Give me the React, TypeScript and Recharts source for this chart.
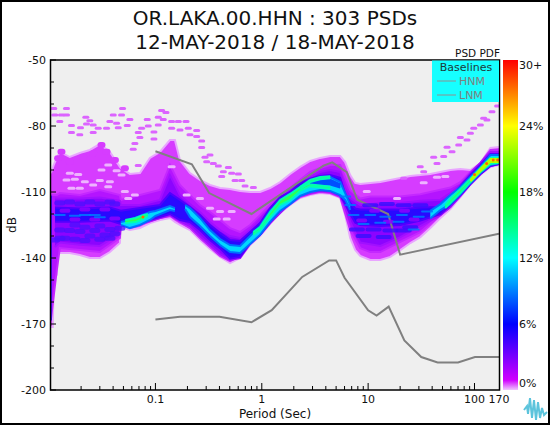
import React from "react";
import { Area, Bar, BarChart, CartesianGrid, ComposedChart, Line, Scatter, XAxis, YAxis } from "recharts";

// Each band row is [period, low dB, high dB]
const outerBand = [
    [0.01038, -171.4, -101.4], [0.01083, -171.4, -99.1], [0.01107, -149.1, -97.7], [0.01182, -147.7, -94.5],
    [0.01208, -137.7, -93.6], [0.01262, -137.7, -91.8], [0.01566, -137.7, -94.1], [0.01946, -138.6, -92.3],
    [0.02416, -140, -90.9], [0.03, -140, -88.2], [0.0373, -137.3, -91.8], [0.0463, -133.2, -98.6],
    [0.0473, -125.9, -99.1], [0.0575, -127.3, -101.8], [0.0715, -126.4, -101.4], [0.0888, -124.1, -94.5],
    [0.1102, -122.7, -91.8], [0.1369, -121.8, -86.4], [0.1525, -123.6, -86.4], [0.17, -125, -95.5],
    [0.2113, -127.3, -101.4], [0.2624, -131.8, -104.5], [0.326, -135.9, -106.8], [0.405, -139.5, -108.2],
    [0.503, -142.3, -108.6], [0.625, -140, -109.5], [0.776, -134.1, -110], [0.964, -130, -110],
    [1.197, -124.5, -108.2], [1.487, -119.5, -105.5], [1.847, -115.9, -101.8], [2.295, -112.7, -98.6],
    [2.85, -111.4, -95.9], [3.54, -110.5, -94.5], [4.4, -110.9, -93.6], [5.46, -112.7, -93.6],
    [6.08, -120.5, -96.4], [6.78, -130.9, -102.3], [7.56, -136.4, -105.9], [8.43, -139.1, -106.4],
    [10.47, -140.9, -105.9], [13, -140.9, -105.5], [16.15, -139.5, -104.5], [20.06, -136.4, -103.6],
    [24.9, -133.2, -102.7], [30.95, -130.5, -102.3], [38.4, -126.4, -101.8], [47.8, -121.8, -100.9],
    [59.3, -117.7, -100], [73.7, -112.3, -99.5], [91.5, -106.8, -100], [113.7, -102.3, -96.8],
    [141, -98.6, -90], [170, -97.7, -89.5],
];

const purpleBand = [
    [0.01038, -168.2, -111.4], [0.01182, -145.5, -111.4], [0.01262, -135.5, -110.5], [0.01946, -136.4, -111.4],
    [0.03, -137.3, -109.1], [0.0463, -130.9, -111.4], [0.0473, -125, -113.6], [0.0715, -125, -111.4],
    [0.1102, -121.8, -109.1], [0.1369, -120.9, -97.7], [0.17, -123.6, -106.8], [0.2113, -126.4, -111.4],
    [0.2624, -130.9, -115.9], [0.326, -135, -119.1], [0.405, -139.1, -122.7], [0.503, -141.4, -126.4],
    [0.625, -139.1, -128.2], [0.776, -133.6, -125], [0.964, -129.5, -120.5], [1.197, -124.1, -115.9],
    [1.487, -119.1, -111.4], [1.847, -115.5, -108.2], [2.295, -112.3, -104.5], [2.85, -110.9, -100.9],
    [3.54, -110, -99.1], [4.4, -110.5, -97.7], [5.46, -112.3, -97.7], [6.78, -127.3, -109.1],
    [8.43, -135.5, -113], [10.47, -137.3, -112], [13, -137.3, -112], [20.06, -132.7, -112],
    [30.95, -128.2, -111], [47.8, -120.5, -109], [59.3, -116.8, -108], [73.7, -111.8, -105.5],
    [91.5, -106.4, -100.9], [113.7, -101.8, -96.8], [141, -98.2, -90.9], [170, -97.3, -90.9],
];

const indigoBand = [
    [0.01135, -135, -113], [0.01262, -133, -113], [0.01946, -134, -113], [0.03, -134.5, -112.5],
    [0.0463, -129, -114], [0.0473, -124.5, -115.9], [0.0715, -124.5, -115.9], [0.1102, -121.8, -113.6],
    [0.1369, -120.5, -102.3], [0.17, -123.2, -111.4], [0.2113, -125.5, -115.5], [0.2624, -130, -119.1],
    [0.326, -134.1, -123.6], [0.405, -138.2, -127.3], [0.503, -140.9, -130], [0.625, -140, -130.9],
    [0.776, -133.6, -127.3], [0.964, -129.5, -122.7], [1.197, -124.1, -117.3], [1.847, -115, -109.1],
    [2.295, -111.8, -105.9], [2.85, -110.5, -103.2], [3.54, -109.5, -100.9], [4.4, -110, -100],
    [5.46, -111.8, -100.9], [6.08, -116.8, -108.2], [6.78, -123.6, -112.7], [8.43, -133, -116],
    [13, -134.5, -115], [20.06, -130.5, -115], [30.95, -125.5, -114], [47.8, -120.5, -113.5],
    [59.3, -116.8, -110.5], [73.7, -111.8, -106.8], [91.5, -106.4, -101.4], [113.7, -101.8, -96.8],
    [141, -98.2, -91.8], [170, -97.3, -91.8],
];

const blueBand = [
    [0.0114, -123.5, -117], [0.01946, -123.5, -117.5], [0.0373, -123, -117], [0.0473, -124.5, -118.5],
    [0.0715, -124.1, -117.3], [0.1102, -121.4, -115.9], [0.1369, -120, -110.5], [0.17, -122.7, -113.6],
    [0.2113, -123.6, -116.8], [0.2624, -127.3, -120.5], [0.326, -131.8, -125], [0.405, -135.5, -128.6],
    [0.503, -140.3, -131.8], [0.625, -139.5, -132.3], [0.776, -133.2, -128.2], [0.964, -129.5, -124.1],
    [1.197, -123.6, -117.3], [1.487, -118.2, -112.3], [1.847, -115, -110], [2.295, -110.5, -105.9],
    [2.85, -109.5, -104], [3.54, -109.1, -102.7], [4.4, -109.5, -102.3], [5.46, -111.4, -103.6],
    [6.08, -115.5, -110.9], [6.78, -120, -115], [7.56, -124, -117.5], [8.43, -125, -118],
    [13, -125.5, -118], [20.06, -125, -118], [30.95, -123, -117], [47.8, -120, -116.8], [59.3, -115.9, -112.3],
    [73.7, -111.4, -107.3], [91.5, -106.4, -102.3], [113.7, -101.8, -97.7], [141, -98.2, -92.7],
    [170, -97.3, -92.7],
];

const stripBand = [[0.0102, -168, -112], [0.0106, -168, -112]];

const cyanPatchLeft = [
    [0.0473, -125, -123.6], [0.0575, -126.4, -122.7], [0.0715, -125, -120.9], [0.0888, -122.7, -119.1],
    [0.1, -120.9, -118.6], [0.1369, -118.2, -116.4], [0.1525, -118.6, -117.3],
];

const cyanBranchLow = [
    [0.19, -117.7, -115.9], [0.2113, -121.4, -117.3], [0.2624, -125.5, -121.8], [0.326, -130, -127.3],
    [0.405, -134.1, -131.4], [0.503, -137.3, -134.1], [0.625, -137.7, -134.5], [0.776, -133.6, -130],
    [0.964, -129.5, -125.5], [1.197, -123.6, -118.6], [1.487, -118.6, -114.1], [1.847, -115.5, -110.9],
    [2.295, -111.8, -108.6], [2.85, -110, -105.5], [3.54, -109.1, -103.6], [4.4, -109.5, -103.2],
    [5.46, -111.4, -105.5], [6.08, -113.6, -110.5], [6.78, -118.2, -115.9],
];

const cyanBranchHigh = [
    [38.4, -122, -118.6], [47.8, -118.2, -115.5], [59.3, -115.5, -111.4], [73.7, -111, -107.7],
    [91.5, -106, -103.2], [113.7, -101.4, -98.6], [141, -97.7, -93.2], [170, -96.8, -93.2],
];

const forkGap = [[2.85, -106.2, -105.6], [3.54, -106.4, -104.8], [4.4, -106.6, -104.4], [5.46, -108, -106.5]];

const greenPatchLeft = [[0.052, -124.1, -122.7], [0.065, -123.6, -121.8], [0.0763, -122.3, -120.5], [0.085, -121, -120]];

const greenBranchLow = [
    [0.83, -129.5, -128.2], [0.964, -127.3, -125.9], [1.197, -121.4, -119.1], [1.487, -115.9, -113.6],
    [1.847, -113.6, -110.9], [2.295, -109.5, -107.7], [2.85, -107.3, -106.2],
];

const greenForkUpper = [[2.295, -108.6, -107.7], [2.85, -105.5, -104.5], [3.54, -104.2, -103.2], [4.4, -103.8, -102.8]];
const greenForkLower = [[2.85, -107.5, -106.6], [3.54, -108, -107], [4.4, -108.6, -107.6]];

const greenBranchHigh = [
    [53, -117.3, -116], [59.3, -115, -113.2], [73.7, -110.5, -108.6], [91.5, -105.5, -104],
    [113.7, -100.9, -99.1], [141, -97.3, -94.5], [170, -96.8, -94.5],
];

const yellowBranchHigh = [[91.5, -105.1, -104.5], [113.7, -100.5, -99.5], [141, -96.4, -95], [170, -96.4, -95]];

const hotCells = [[0.0763, -121.4], [100, -102], [130, -97], [150, -95.5], [165, -95.5]];

// Light holes in the upper part of the cloud
const sparseCells = [
    [0.01567, -101.5], [0.01877, -102], [0.01457, -104.5], [0.01746, -104.2], [0.0311, -100], [0.036, -97.7],
    [0.0431, -100.3], [0.048, -102.3], [0.026, -106.8], [0.0217, -105.3], [0.01624, -108.3], [0.01946, -108.3],
    [0.0373, -105.3], [0.03, -104.8], [0.0555, -112.9], [0.0641, -111.4], [0.036, -107.6], [0.0516, -109.8],
    [0.326, -117.4], [0.405, -118.9], [0.521, -118.9], [0.3766, -122.3], [0.468, -122.3], [0.2624, -112.9],
    [0.1965, -111.4], [0.142, -98.5], [33.3, -105.8], [18.7, -112.9], [9.7, -109.8], [44.4, -103.3], [53.2, -103],
];

// Bumps on the upper edge of the cloud
const edgeCells = [
    [0.01307, -91.7], [0.01216, -94.7], [0.0157, -96.2], [0.0209, -94], [0.026, -92.4], [0.0311, -88.6], [0.0347, -91.7],
    [0.0416, -95.4], [0.0516, -99.2],
];

// Blue mottling in the low part of the left side
const mottleBlue = [
    [0.0113, -131.8], [0.0126, -127.3], [0.0141, -131], [0.0156, -127.5], [0.0175, -125], [0.0175, -131.5],
    [0.0195, -128], [0.0217, -132], [0.0217, -126], [0.0242, -130], [0.0269, -127.5], [0.03, -131.5], [0.03, -125.5],
    [0.0335, -129.5], [0.0373, -127], [0.0373, -131], [0.0415, -129], [0.0463, -126.5], [0.0126, -131],
    [0.0126, -115], [0.0156, -114.5], [0.0195, -115.5], [0.0242, -114.5], [0.03, -115.5], [0.0373, -114.5], [0.0415, -115.5],
];

// Violet gaps broken into the blue row on the left and on the right
const mottleViolet = [
    [0.0141, -118.5], [0.0175, -122.5], [0.0217, -118], [0.0269, -122.5], [0.0335, -118], [0.0415, -122],
    [8.7, -123], [11.5, -118.5], [15.5, -123.5], [22, -118.5], [27, -122.5],
];

const streakBlue = [
    [7.84, -127], [11.25, -127], [16.2, -127.5], [21.6, -127.5], [9.06, -130], [14, -130.5], [24.9, -126],
    [10.47, -116], [15, -115.5], [21.6, -116], [30.9, -116],
];

const streakCyan = [
    [7.29, -120.5], [10.47, -120.5], [14.5, -121.2], [20.8, -120.5], [29.9, -121.2], [26.8, -127], [9.06, -124.5],
    [13, -124], [19.3, -123.5], [35.8, -118.9], [6.8, -115.9], [6.09, -112.1],
    [0.0126, -120.5], [0.0175, -120.8], [0.0217, -120.5], [0.0269, -120.5], [0.03, -121.5],
];

// Isolated PSDs above the main cloud
const outlierCells = [
    [0.01107, -72], [0.01457, -72], [0.01131, -75], [0.01307, -75], [0.01457, -75], [0.01261, -77.9], [0.0491, -72],
    [0.048, -75], [0.0401, -75], [0.0373, -78], [0.0431, -78.8], [0.02216, -76], [0.02416, -77.6], [0.02248, -79.1],
    [0.026, -79.5], [0.01624, -79.8], [0.01974, -80.8], [0.01624, -83], [0.01945, -84], [0.026, -83], [0.02896, -81],
    [0.03467, -81], [0.0447, -80.8], [0.0543, -79.8], [0.0575, -77], [0.0838, -77], [0.0856, -80], [0.0741, -81],
    [0.0689, -83], [0.0714, -85.2], [0.0641, -87.9], [0.0618, -90.6], [0.0968, -82.7], [0.0968, -85.9], [0.1063, -76],
    [0.1063, -79.5], [0.1143, -73], [0.1256, -73.9], [0.1185, -77], [0.142, -78], [0.164, -78], [0.1937, -78],
    [0.142, -81], [0.1701, -81.8], [0.2037, -81], [0.2442, -82.1], [0.2112, -84], [0.2442, -84.8], [0.2721, -86.8],
    [0.2721, -89.8], [0.3259, -93.2], [0.2924, -94.2], [0.3033, -96.2], [0.3503, -97], [0.3905, -98.2], [0.4851, -98.9],
    [0.4352, -100.8], [0.4198, -103], [0.5214, -101.5], [0.6024, -101.8], [0.5607, -104.8], [0.6475, -104.8],
    [0.696, -107.3], [0.834, -108], [0.0689, -97.9], [21.6, -103.8], [30.9, -98.5], [41.3, -94.2], [55.2, -89.7],
    [73.7, -85.2], [98.4, -81], [122, -76.5], [146, -73.5], [165, -70.9], [33.3, -100.8], [44.4, -97], [61.5, -91.7],
    [85, -86.4], [113.6, -79.5], [131, -77.3], [51.3, -93.9], [71, -88.6], [91.5, -83.3],
];

const hnmPeriods = [0.1, 0.22, 0.32, 0.8, 3.8, 4.6, 6.3, 7.9, 15.4, 20, 170];
const hnmValues = [-91.5, -97.4, -110.5, -120, -98, -96.5, -101, -113.5, -120, -138.5, -129];
const lnmPeriods = [0.1, 0.17, 0.4, 0.8, 1.24, 2.4, 4.3, 5, 6, 10, 12, 15.6, 21.9, 31.6, 45, 70, 101, 170];
const lnmValues = [-168, -166.7, -166.7, -169.2, -163.7, -148.6, -141.1, -141.1, -149, -163.8, -166.2, -162.1, -177.5, -185, -187.5, -187.5, -185, -185];

const xMajorTicks = [0.1, 1, 10, 100];
const xMinorTicks = [
    0.02, 0.03, 0.04, 0.05, 0.06, 0.07, 0.08, 0.09, 0.2, 0.3, 0.4, 0.5, 0.6, 0.7, 0.8, 0.9,
    2, 3, 4, 5, 6, 7, 8, 9, 20, 30, 40, 50, 60, 70, 80, 90,
];
const xAllTicks = [...xMinorTicks, ...xMajorTicks, 170].sort((a, b) => a - b);
const yTicks = [-50, -60, -70, -80, -90, -100, -110, -120, -130, -140, -150, -160, -170, -180, -190, -200];
const yLabelled = [-50, -80, -110, -140, -170, -200];
const scaleTicks = [0, 6, 12, 18, 24, 30];

const FONT = "DejaVu Sans";

const toBand = (rows: number[][]) => rows.map(([period, low, high]) => ({ period, band: [low, high] }));
const toCells = (rows: number[][]) => rows.map(([period, db]) => ({ period, db }));
const toLine = (periods: number[], values: number[]) => periods.map((period, i) => ({ period, db: values[i] }));

function XTick({ x, payload }: any) {
    const major = xMajorTicks.includes(payload.value);
    const labelled = major || payload.value === 170;
    return (
        <g>
            {payload.value !== 170 && <line x1={x} x2={x} y1={390} y2={major ? 383 : 386} stroke="#000" />}
            {labelled && (
                <text x={x} y={403} textAnchor="middle" fontFamily={FONT} fontSize={11} fill="#111">
                    {payload.value}
                </text>
            )}
        </g>
    );
}

function YTick({ y, payload }: any) {
    const labelled = yLabelled.includes(payload.value);
    return (
        <g>
            <line x1={50} x2={labelled ? 56 : 54} y1={y} y2={y} stroke="#000" />
            {labelled && (
                <text x={46} y={y + 4} textAnchor="end" fontFamily={FONT} fontSize={11} fill="#111">
                    {payload.value}
                </text>
            )}
        </g>
    );
}

function ScaleTick({ y, payload }: any) {
    const shift = payload.value === 30 ? 9 : payload.value === 0 ? -3 : 4;
    const label = payload.value === 30 ? "30+" : `${payload.value}%`;
    return (
        <text x={19} y={y + shift} fontFamily={FONT} fontSize={11} fill="#111">
            {label}
        </text>
    );
}

const cellShape = (w: number, h: number, color: string, opacity = 1) => (props: any) => (
    <rect x={props.cx - w / 2} y={props.cy - h / 2} width={w} height={h} rx={h / 2} fill={color} opacity={opacity} />
);

export default function App() {
    const bands: [number[][], string, string][] = [
        [outerBand, "#d63cff", "#e9a6ff"],
        [purpleBand, "#b414ff", "#c428ff"],
    ];
    const coreBands: [number[][], string, string][] = [
        [indigoBand, "#8c04ff", "#a010ff"],
        [blueBand, "#2a08ff", "#5000ff"],
        [stripBand, "#1a10ff", "#2a10ff"],
    ];
    const hotBands: [number[][], string, string][] = [
        [cyanPatchLeft, "#00d8ff", "#0070ff"],
        [cyanBranchLow, "#00d8ff", "#0070ff"],
        [cyanBranchHigh, "#00d8ff", "#0070ff"],
        [forkGap, "#0050ff", "#0050ff"],
        [greenPatchLeft, "#30ff50", "#00ffb0"],
        [greenBranchLow, "#30ff50", "#00ffb0"],
        [greenForkUpper, "#30ff50", "#00ffb0"],
        [greenForkLower, "#30ff50", "#00ffb0"],
        [greenBranchHigh, "#30ff50", "#00ffb0"],
        [yellowBranchHigh, "#ffe000", "#b0ff00"],
    ];
    const drawBand = ([rows, fill, stroke]: [number[][], string, string], i: number) => (
        <Area
            key={`${fill}-${i}`}
            data={toBand(rows)}
            dataKey="band"
            type="linear"
            fill={fill}
            fillOpacity={1}
            stroke={stroke}
            strokeWidth={2}
            dot={false}
            activeDot={false}
            isAnimationActive={false}
        />
    );

    return (
        <div style={{ position: "fixed", left: 0, top: 0, width: 550, height: 425, background: "#fff", overflow: "hidden" }}>
            <div style={{ position: "absolute", left: 0, top: 0 }}>
                <ComposedChart width={550} height={425} margin={{ top: 60, right: 51, bottom: 5, left: 0 }}>
                    <CartesianGrid horizontal={false} vertical={false} fill="#efefef" />
                    <XAxis
                        dataKey="period"
                        type="number"
                        scale="log"
                        domain={[0.0102, 170]}
                        allowDataOverflow
                        ticks={xAllTicks}
                        interval={0}
                        height={30}
                        tickLine={false}
                        tick={<XTick />}
                        axisLine={false}
                    />
                    <YAxis
                        dataKey="db"
                        type="number"
                        domain={[-200, -50]}
                        allowDataOverflow
                        ticks={yTicks}
                        interval={0}
                        width={50}
                        tickLine={false}
                        tick={<YTick />}
                        axisLine={false}
                    />
                    {bands.map(drawBand)}
                    <Scatter data={toCells(edgeCells)} dataKey="db" shape={cellShape(8, 6, "#d63cff")} isAnimationActive={false} />
                    {coreBands.map(drawBand)}
                    <Scatter data={toCells(mottleBlue)} dataKey="db" shape={cellShape(11, 5, "#4a10ff", 0.75)} isAnimationActive={false} />
                    <Scatter data={toCells(mottleViolet)} dataKey="db" shape={cellShape(11, 4, "#8c04ff", 0.85)} isAnimationActive={false} />
                    <Scatter data={toCells(streakBlue)} dataKey="db" shape={cellShape(16, 4, "#3410ff", 0.8)} isAnimationActive={false} />
                    <Scatter data={toCells(streakCyan)} dataKey="db" shape={cellShape(12, 2, "#0078ff", 0.85)} isAnimationActive={false} />
                    {hotBands.map(drawBand)}
                    <Scatter data={toCells(sparseCells)} dataKey="db" shape={cellShape(8, 3, "#eeb4ff")} isAnimationActive={false} />
                    <Scatter data={toCells(outlierCells)} dataKey="db" shape={cellShape(7, 3, "#dc64ff")} isAnimationActive={false} />
                    <Scatter data={toCells(hotCells)} dataKey="db" shape={cellShape(3, 3, "#ff6a00")} isAnimationActive={false} />
                    <Line data={toLine(hnmPeriods, hnmValues)} dataKey="db" stroke="#808080" strokeWidth={2} dot={false} activeDot={false} isAnimationActive={false} />
                    <Line data={toLine(lnmPeriods, lnmValues)} dataKey="db" stroke="#808080" strokeWidth={2} dot={false} activeDot={false} isAnimationActive={false} />
                </ComposedChart>
            </div>

            <div style={{ position: "absolute", left: 500, top: 0 }}>
                <BarChart width={50} height={425} data={[{ name: "pdf", range: [0, 30] }]} margin={{ top: 60, right: 0, bottom: 35, left: 3 }} barCategoryGap={0}>
                    <defs>
                        <linearGradient id="pdfScale" x1="0" y1="0" x2="0" y2="1">
                            <stop offset="0%" stopColor="#ff0000" />
                            <stop offset="20%" stopColor="#ffff00" />
                            <stop offset="40%" stopColor="#00ff00" />
                            <stop offset="60%" stopColor="#00ffff" />
                            <stop offset="80%" stopColor="#0000ff" />
                            <stop offset="97%" stopColor="#d000ff" />
                            <stop offset="100%" stopColor="#f0c8ff" />
                        </linearGradient>
                    </defs>
                    <XAxis dataKey="name" hide />
                    <YAxis orientation="right" type="number" domain={[0, 30]} ticks={scaleTicks} interval={0} width={32} axisLine={false} tickLine={false} tick={<ScaleTick />} />
                    <Bar dataKey="range" fill="url(#pdfScale)" isAnimationActive={false} />
                </BarChart>
            </div>

            <svg width={550} height={425} style={{ position: "absolute", left: 0, top: 0, pointerEvents: "none" }} fontFamily={FONT}>
                <rect x={1} y={1} width={548} height={423} fill="none" stroke="#000" strokeWidth={2} />
                <rect x={50.5} y={60} width={449} height={330} fill="none" stroke="#000" strokeWidth={1.5} />
                <text x={275} y={25} textAnchor="middle" fontSize={20} fill="#111">OR.LAKA.00.HHN : 303 PSDs</text>
                <text x={275} y={49} textAnchor="middle" fontSize={20} fill="#111">12-MAY-2018 / 18-MAY-2018</text>
                <text x={500} y={57} textAnchor="end" fontSize={10.5} fill="#111">PSD PDF</text>
                <rect x={432} y={60.5} width={67} height={41.5} fill="#16ffff" />
                <text x={466} y={71} textAnchor="middle" fontSize={11} fill="#1c3a3a">Baselines</text>
                <line x1={437} x2={456} y1={81} y2={81} stroke="#909090" />
                <text x={459} y={85} fontSize={11} fill="#808080">HNM</text>
                <line x1={437} x2={456} y1={95} y2={95} stroke="#909090" />
                <text x={459} y={99} fontSize={11} fill="#808080">LNM</text>
                <text x={275} y={418} textAnchor="middle" fontSize={12} fill="#111">Period (Sec)</text>
                <text x={16} y={225} textAnchor="middle" fontSize={12} fill="#111" transform="rotate(-90 16 225)">dB</text>
                <path
                    d="M524 410 L527 406 L528 414 L530 398 L532 418 L534 400 L536 420 L538 402 L540 418 L542 408 L544 415 L547 412"
                    fill="none" stroke="#5cc4dc" strokeWidth={2}
                />
            </svg>
        </div>
    );
}
